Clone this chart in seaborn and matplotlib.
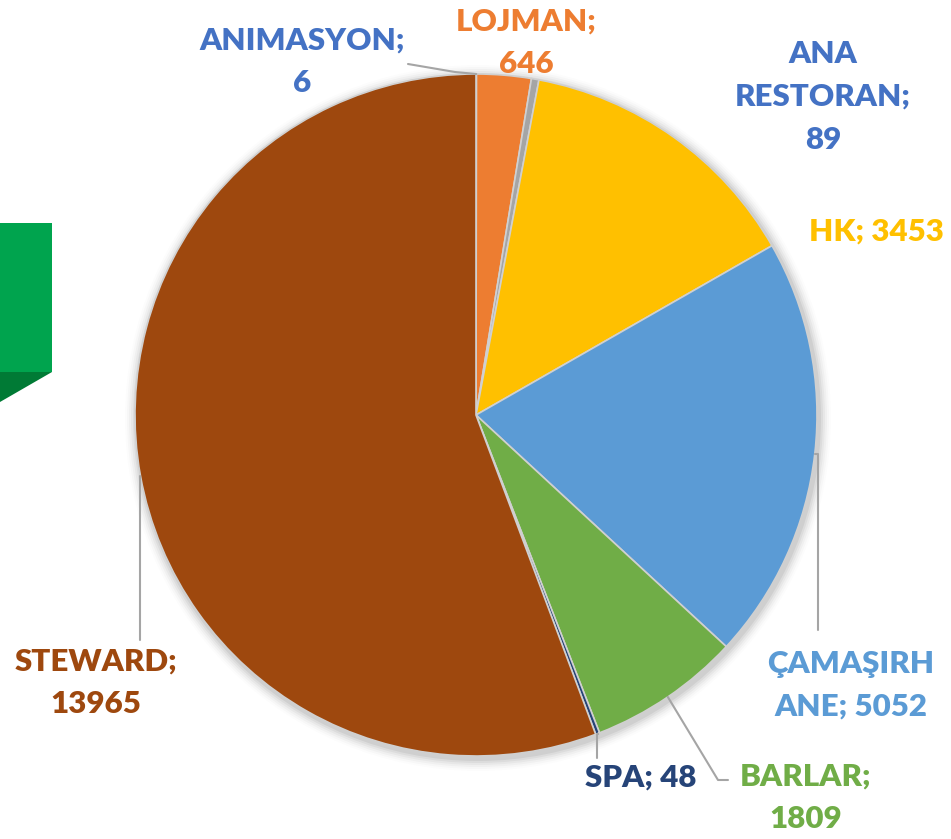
import matplotlib.pyplot as plt
import numpy as np
import seaborn as sns
from matplotlib.patches import Polygon

# Data (clockwise from 12 o'clock)
NAMES = ["ANIMASYON", "LOJMAN", "ANA RESTORAN", "HK", "ÇAMAŞIRHANE", "BARLAR", "SPA", "STEWARD"]
VALUES = [6, 646, 89, 3453, 5052, 1809, 48, 13965]
SLICE_COLORS = ["#4472C4", "#ED7D31", "#A5A5A5", "#FFC000", "#5B9BD5", "#70AD47", "#264478", "#9E480E"]
LABEL_COLORS = ["#4472C4", "#ED7D31", "#4472C4", "#FFC000", "#5B9BD5", "#70AD47", "#264478", "#9E480E"]

# Label texts (as wrapped in the chart)
LABEL_TEXTS = [
    "ANIMASYON;\n6",
    "LOJMAN;\n646",
    "ANA\nRESTORAN;\n89",
    "HK; 3453",
    "ÇAMAŞIRH\nANE; 5052",
    "BARLAR;\n1809",
    "SPA; 48",
    "STEWARD;\n13965",
]

W, H = 951, 839
CX, CY, R = 476, 415, 341

sns.set_theme(style="white")
plt.rcParams["font.family"] = ["Lato", "DejaVu Sans"]

fig = plt.figure(figsize=(W / 100, H / 100), dpi=100)
ax = fig.add_axes([0, 0, 1, 1])


def img(x, y):
    return x, H - y


# green decoration at left edge
ax.add_patch(Polygon([img(0, 223), img(52, 223), img(52, 372), img(0, 372)],
                     closed=True, color="#00A44E", lw=0))
ax.add_patch(Polygon([img(0, 372), img(52, 372), img(0, 402)],
                     closed=True, color="#007A35", lw=0))

# soft shadow
for i, a in enumerate(np.linspace(0.05, 0.01, 6)):
    circ = plt.Circle(img(CX + 2, CY + 3), R + 2 + i * 2, color="black", alpha=a, lw=0, zorder=1)
    ax.add_patch(circ)

wedges, _ = ax.pie(
    VALUES,
    colors=SLICE_COLORS,
    startangle=90,
    counterclock=False,
    center=img(CX, CY),
    radius=R,
    wedgeprops=dict(edgecolor="#D0D0D0", linewidth=1.2),
    frame=True,
)
for w in wedges:
    w.set_zorder(2)
ax.set_xlim(0, W)
ax.set_ylim(0, H)
ax.set_aspect("equal")
ax.axis("off")

# label positions (image px) and leader elbow points
label_layout = {
    "ANIMASYON": dict(pos=(302, 62), leader=[(408, 64), (455, 72)]),
    "LOJMAN": dict(pos=(526, 43), leader=None),
    "ANA RESTORAN": dict(pos=(823, 97), leader=None),
    "HK": dict(pos=(876, 232), leader=None),
    "ÇAMAŞIRHANE": dict(pos=(851, 685), leader=[(818, 630)]),
    "BARLAR": dict(pos=(806, 798), leader=[(728, 780), (718, 780)]),
    "SPA": dict(pos=(641, 778), leader=[(597, 758)]),
    "STEWARD": dict(pos=(96, 683), leader=[(140, 640)]),
}

for w, name, text, col in zip(wedges, NAMES, LABEL_TEXTS, LABEL_COLORS):
    lay = label_layout[name]
    x, y = lay["pos"]
    ax.text(*img(x, y), text, ha="center", va="center", color=col,
            fontsize=22.5, fontweight="heavy", linespacing=1.65, zorder=5)
    if lay["leader"]:
        mid = np.deg2rad((w.theta1 + w.theta2) / 2)
        ex, ey = CX + R * np.cos(mid), CY - R * np.sin(mid)
        pts = list(lay["leader"]) + [(ex, ey)]
        if name in ("STEWARD", "ÇAMAŞIRHANE", "SPA"):
            pts = [lay["leader"][0], (lay["leader"][0][0], ey), (ex, ey)]
        xs = [p[0] for p in pts]
        ys = [H - p[1] for p in pts]
        ax.plot(xs, ys, color="#A5A5A5", lw=1.5, zorder=4)

fig.savefig("out.png", dpi=100)
